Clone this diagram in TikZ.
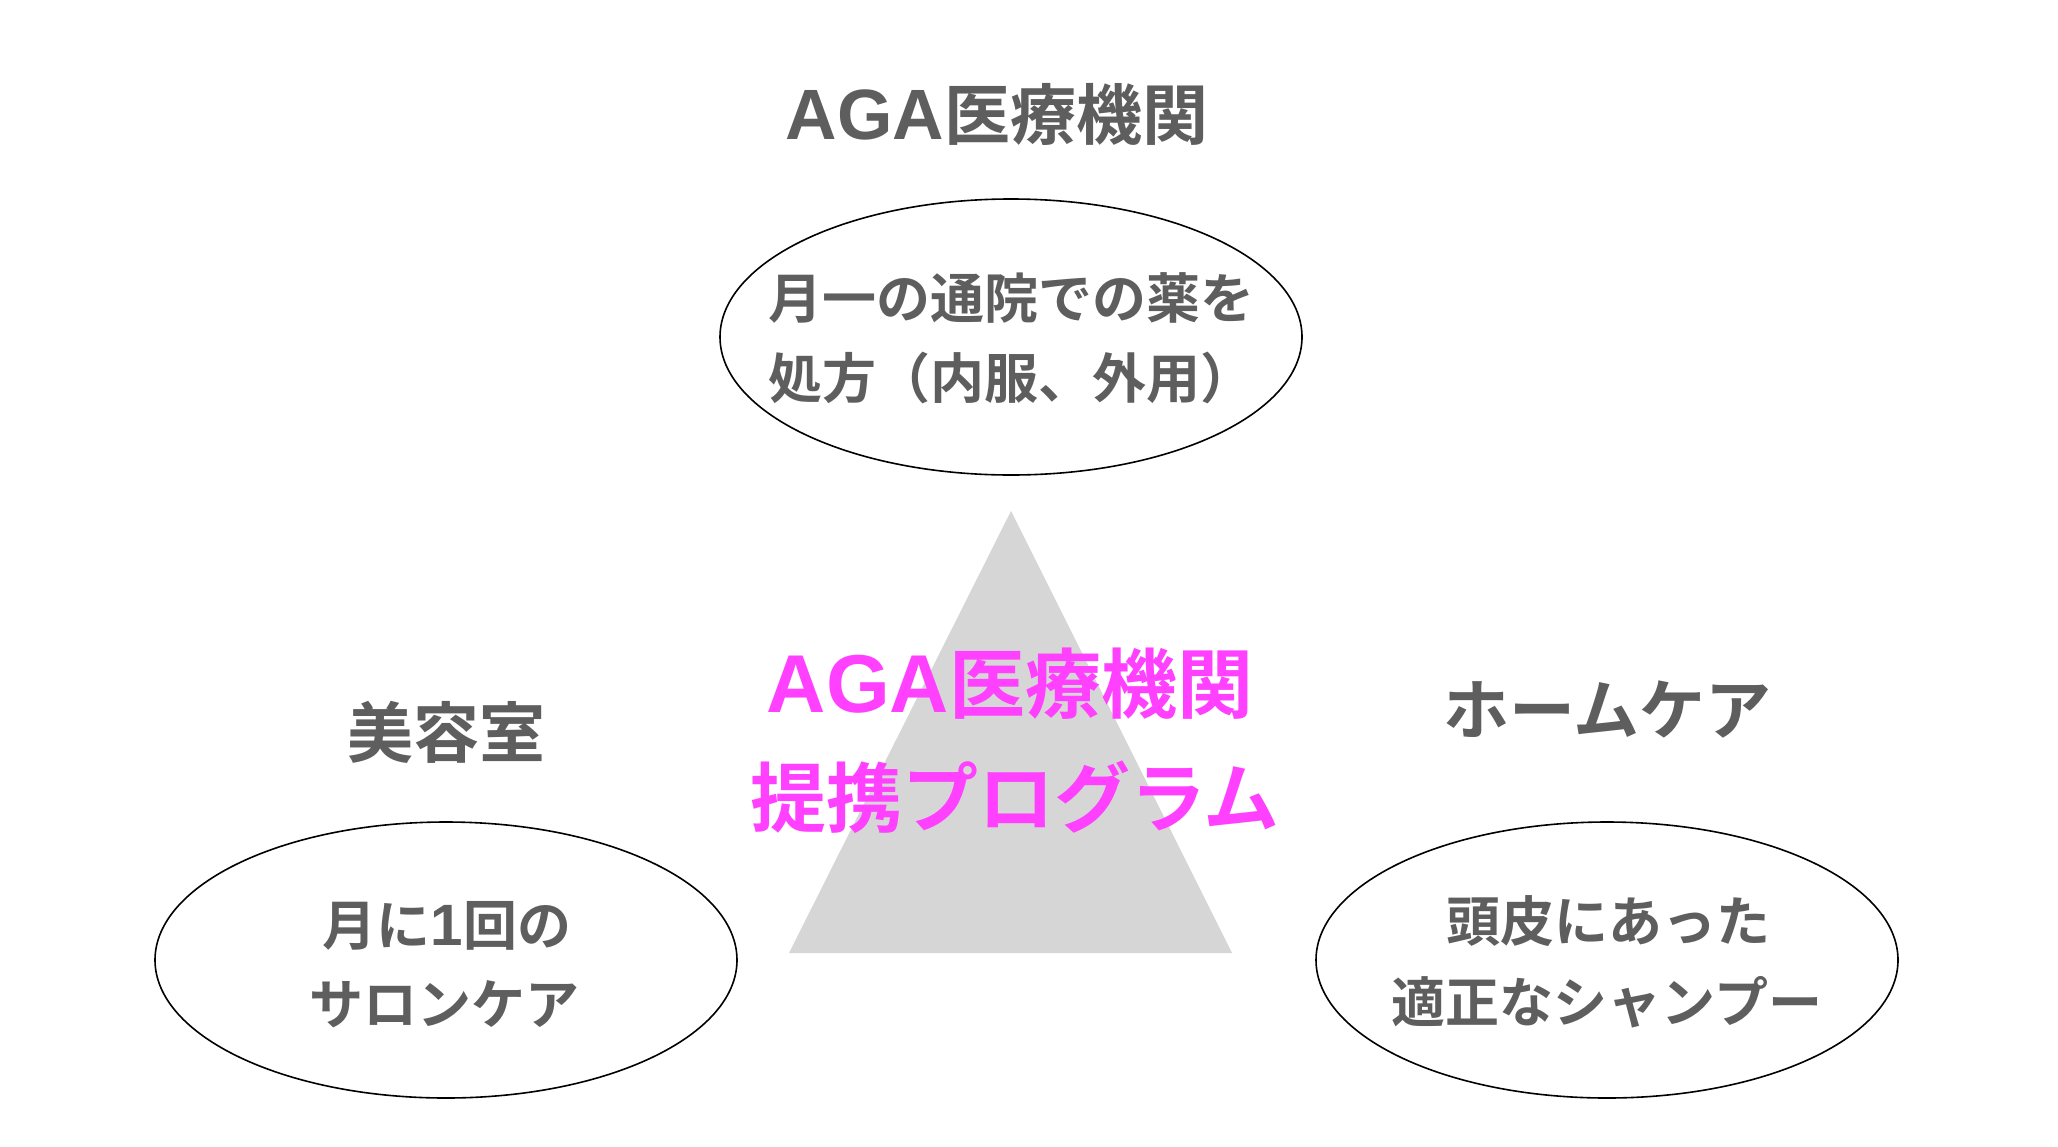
\documentclass[tikz,border=0pt]{standalone}
\usepackage{fontspec}
\newfontfamily\jp{Noto Sans CJK JP}[UprightFont=* Bold]
\newfontfamily\latf{Liberation Sans}[UprightFont=* Bold, Scale=1.08]
\newcommand{\lat}[1]{{\latf #1}}
\usetikzlibrary{shapes.geometric}
\definecolor{txtgray}{HTML}{5E5E5E}
\definecolor{pinkm}{HTML}{FF40FF}
\definecolor{trigray}{HTML}{D6D6D6}
\tikzset{
  oval/.style={draw=black, line width=1.6pt, ellipse, inner sep=0pt,
               minimum width=582pt, minimum height=276pt},
  head/.style={anchor=base, text=txtgray, font=\jp\fontsize{66}{66}\selectfont, inner sep=0pt},
  body/.style={anchor=base, text=txtgray, font=\jp\fontsize{54}{54}\selectfont, inner sep=0pt},
  center/.style={anchor=base, text=pinkm, font=\jp\fontsize{76}{76}\selectfont, inner sep=0pt}
}
\begin{document}
\begin{tikzpicture}[x=1pt,y=-1pt]
\useasboundingbox[fill=white] (0,0) rectangle (2058,1146);
% triangle
\coordinate (apex) at (1011,511);
\coordinate (bl) at (789,953);
\coordinate (br) at (1232,953);
\fill[trigray] (apex) -- (bl) -- (br) -- cycle;
% ellipses
\node[oval] (top) at (1011,337) {};
\node[oval] (left) at (446,960) {};
\node[oval] (right) at (1607,960) {};
% headings
\node[head] (htop) at (997,139) {\lat{AGA}医療機関};
\node[head] (hleft) at (446,757) {美容室};
\node[head] (hright) at (1607,734) {ホームケア};
% ellipse texts
\node[body] (t1) at (1011,318) {月一の通院での薬を};
\node[body] (t2) at (1011,398) {処方（内服、外用）};
\node[body] (l1) at (447,945) {月に\lat{1}回の};
\node[body] (l2) at (444,1024) {サロンケア};
\node[body] (r1) at (1608,941) {頭皮にあった};
\node[body] (r2) at (1607,1022) {適正なシャンプー};
% center
\node[center] (c1) at (1010,712) {\lat{AGA}医療機関};
\node[center] (c2) at (1015,826) {提携プログラム};
\end{tikzpicture}
\end{document}
